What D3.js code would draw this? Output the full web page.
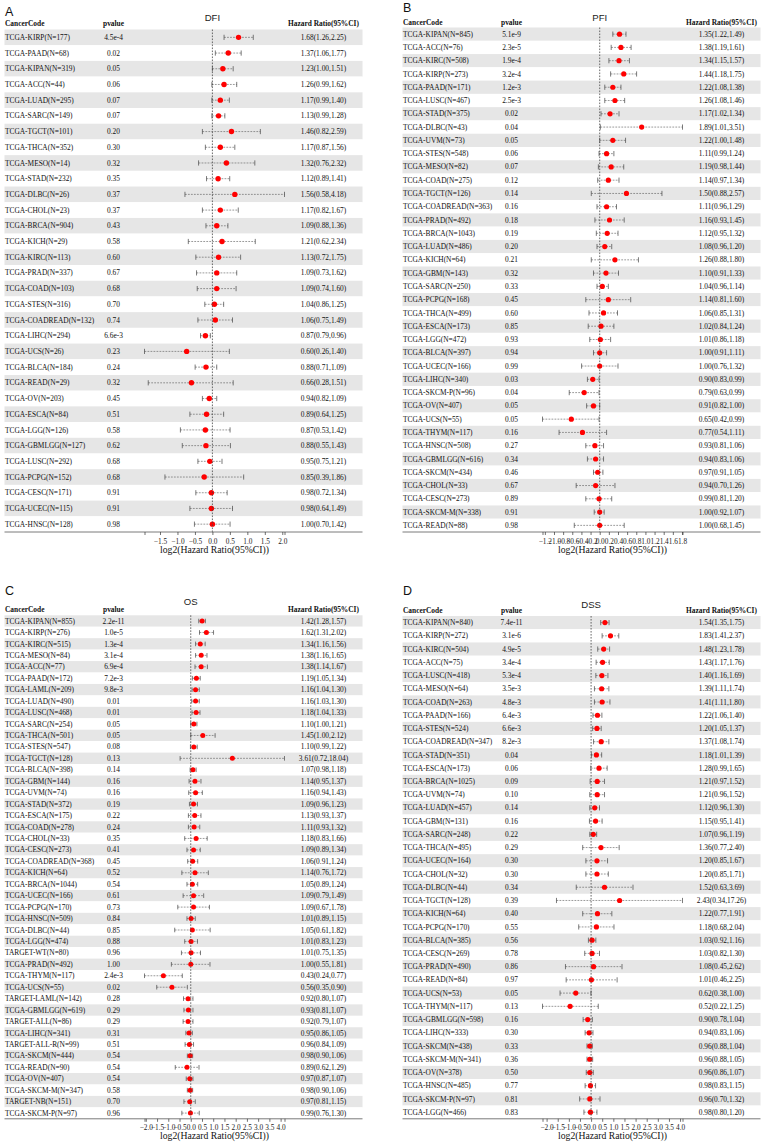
<!DOCTYPE html>
<html>
<head>
<meta charset="utf-8">
<script src="https://cdn.jsdelivr.net/npm/d3@7"></script>
<style>
  body { margin: 0; background: #fff; }
  text { font-family: "Liberation Serif", "Times New Roman", serif; fill: #111; }
  .sans { font-family: "Liberation Sans", Arial, sans-serif; }
</style>
</head>
<body>
<div id="chart"></div>
<script>
// ---- DFI (A) ----
var dfiCode = ["TCGA-KIRP(N=177)","TCGA-PAAD(N=68)","TCGA-KIPAN(N=319)","TCGA-ACC(N=44)","TCGA-LUAD(N=295)","TCGA-SARC(N=149)","TCGA-TGCT(N=101)","TCGA-THCA(N=352)","TCGA-MESO(N=14)","TCGA-STAD(N=232)","TCGA-DLBC(N=26)","TCGA-CHOL(N=23)","TCGA-BRCA(N=904)","TCGA-KICH(N=29)","TCGA-KIRC(N=113)","TCGA-PRAD(N=337)","TCGA-COAD(N=103)","TCGA-STES(N=316)","TCGA-COADREAD(N=132)","TCGA-LIHC(N=294)","TCGA-UCS(N=26)","TCGA-BLCA(N=184)","TCGA-READ(N=29)","TCGA-OV(N=203)","TCGA-ESCA(N=84)","TCGA-LGG(N=126)","TCGA-GBMLGG(N=127)","TCGA-LUSC(N=292)","TCGA-PCPG(N=152)","TCGA-CESC(N=171)","TCGA-UCEC(N=115)","TCGA-HNSC(N=128)"];
var dfiP = ["4.5e-4","0.02","0.05","0.06","0.07","0.07","0.20","0.30","0.32","0.35","0.37","0.37","0.43","0.58","0.60","0.67","0.68","0.70","0.74","6.6e-3","0.23","0.24","0.32","0.45","0.51","0.58","0.62","0.68","0.68","0.91","0.91","0.98"];
var dfiHR = [1.68,1.37,1.23,1.26,1.17,1.13,1.46,1.17,1.32,1.12,1.56,1.17,1.09,1.21,1.13,1.09,1.09,1.04,1.06,0.87,0.60,0.88,0.66,0.94,0.89,0.87,0.88,0.95,0.85,0.98,0.98,1.00];
var dfiLo = [1.26,1.06,1.00,0.99,0.99,0.99,0.82,0.87,0.76,0.89,0.58,0.82,0.88,0.62,0.72,0.73,0.74,0.86,0.75,0.79,0.26,0.71,0.28,0.82,0.64,0.53,0.55,0.75,0.39,0.72,0.64,0.70];
var dfiHi = [2.25,1.77,1.51,1.62,1.40,1.28,2.59,1.56,2.32,1.41,4.18,1.67,1.36,2.34,1.75,1.62,1.60,1.25,1.49,0.96,1.40,1.09,1.51,1.09,1.25,1.42,1.43,1.21,1.86,1.34,1.49,1.42];

// ---- PFI (B) ----
var pfiCode = ["TCGA-KIPAN(N=845)","TCGA-ACC(N=76)","TCGA-KIRC(N=508)","TCGA-KIRP(N=273)","TCGA-PAAD(N=171)","TCGA-LUSC(N=467)","TCGA-STAD(N=375)","TCGA-DLBC(N=43)","TCGA-UVM(N=73)","TCGA-STES(N=548)","TCGA-MESO(N=82)","TCGA-COAD(N=275)","TCGA-TGCT(N=126)","TCGA-COADREAD(N=363)","TCGA-PRAD(N=492)","TCGA-BRCA(N=1043)","TCGA-LUAD(N=486)","TCGA-KICH(N=64)","TCGA-GBM(N=143)","TCGA-SARC(N=250)","TCGA-PCPG(N=168)","TCGA-THCA(N=499)","TCGA-ESCA(N=173)","TCGA-LGG(N=472)","TCGA-BLCA(N=397)","TCGA-UCEC(N=166)","TCGA-LIHC(N=340)","TCGA-SKCM-P(N=96)","TCGA-OV(N=407)","TCGA-UCS(N=55)","TCGA-THYM(N=117)","TCGA-HNSC(N=508)","TCGA-GBMLGG(N=616)","TCGA-SKCM(N=434)","TCGA-CHOL(N=33)","TCGA-CESC(N=273)","TCGA-SKCM-M(N=338)","TCGA-READ(N=88)"];
var pfiP = ["5.1e-9","2.3e-5","1.9e-4","3.2e-4","1.2e-3","2.5e-3","0.02","0.04","0.05","0.06","0.07","0.12","0.14","0.16","0.18","0.19","0.20","0.21","0.32","0.33","0.45","0.60","0.85","0.93","0.94","0.99","0.03","0.04","0.05","0.05","0.16","0.27","0.34","0.46","0.67","0.89","0.91","0.98"];
var pfiHR = [1.35,1.38,1.34,1.44,1.22,1.26,1.17,1.89,1.22,1.11,1.19,1.14,1.50,1.11,1.16,1.12,1.08,1.26,1.10,1.04,1.14,1.06,1.02,1.01,1.00,1.00,0.90,0.79,0.91,0.65,0.77,0.93,0.94,0.97,0.94,0.99,1.00,1.00];
var pfiLo = [1.22,1.19,1.15,1.18,1.08,1.08,1.02,1.01,1.00,0.99,0.98,0.97,0.88,0.96,0.93,0.95,0.96,0.88,0.91,0.96,0.81,0.85,0.84,0.86,0.91,0.76,0.83,0.63,0.82,0.42,0.54,0.81,0.83,0.91,0.70,0.81,0.92,0.68];
var pfiHi = [1.49,1.61,1.57,1.75,1.38,1.46,1.34,3.51,1.48,1.24,1.44,1.34,2.57,1.29,1.45,1.32,1.20,1.80,1.33,1.14,1.60,1.31,1.24,1.18,1.11,1.32,0.99,0.99,1.00,0.99,1.11,1.06,1.06,1.05,1.26,1.20,1.07,1.45];

// ---- OS (C) ----
var osCode = ["TCGA-KIPAN(N=855)","TCGA-KIRP(N=276)","TCGA-KIRC(N=515)","TCGA-MESO(N=84)","TCGA-ACC(N=77)","TCGA-PAAD(N=172)","TCGA-LAML(N=209)","TCGA-LUAD(N=490)","TCGA-LUSC(N=468)","TCGA-SARC(N=254)","TCGA-THCA(N=501)","TCGA-STES(N=547)","TCGA-TGCT(N=128)","TCGA-BLCA(N=398)","TCGA-GBM(N=144)","TCGA-UVM(N=74)","TCGA-STAD(N=372)","TCGA-ESCA(N=175)","TCGA-COAD(N=278)","TCGA-CHOL(N=33)","TCGA-CESC(N=273)","TCGA-COADREAD(N=368)","TCGA-KICH(N=64)","TCGA-BRCA(N=1044)","TCGA-UCEC(N=166)","TCGA-PCPG(N=170)","TCGA-HNSC(N=509)","TCGA-DLBC(N=44)","TCGA-LGG(N=474)","TARGET-WT(N=80)","TCGA-PRAD(N=492)","TCGA-THYM(N=117)","TCGA-UCS(N=55)","TARGET-LAML(N=142)","TCGA-GBMLGG(N=619)","TARGET-ALL(N=86)","TCGA-LIHC(N=341)","TARGET-ALL-R(N=99)","TCGA-SKCM(N=444)","TCGA-READ(N=90)","TCGA-OV(N=407)","TCGA-SKCM-M(N=347)","TARGET-NB(N=151)","TCGA-SKCM-P(N=97)"];
var osP = ["2.2e-11","1.0e-5","1.3e-4","3.1e-4","6.9e-4","7.2e-3","9.8e-3","0.01","0.01","0.05","0.05","0.08","0.13","0.14","0.16","0.16","0.19","0.22","0.24","0.35","0.41","0.45","0.52","0.54","0.61","0.73","0.84","0.85","0.88","0.96","1.00","2.4e-3","0.02","0.28","0.29","0.29","0.31","0.51","0.54","0.54","0.54","0.58","0.70","0.96"];
var osHR = [1.42,1.62,1.34,1.38,1.38,1.19,1.16,1.16,1.18,1.10,1.45,1.10,3.61,1.07,1.14,1.16,1.09,1.13,1.11,1.18,1.09,1.06,1.14,1.05,1.09,1.09,1.01,1.05,1.01,1.01,1.00,0.43,0.56,0.92,0.93,0.92,0.95,0.96,0.98,0.89,0.97,0.98,0.97,0.99];
var osLo = [1.28,1.31,1.16,1.16,1.14,1.05,1.04,1.03,1.04,1.00,1.00,0.99,0.72,0.98,0.95,0.94,0.96,0.93,0.93,0.83,0.89,0.91,0.76,0.89,0.79,0.67,0.89,0.61,0.83,0.75,0.55,0.24,0.35,0.80,0.81,0.79,0.86,0.84,0.90,0.62,0.87,0.90,0.81,0.76];
var osHi = [1.57,2.02,1.56,1.65,1.67,1.34,1.30,1.30,1.33,1.21,2.12,1.22,18.04,1.18,1.37,1.43,1.23,1.37,1.32,1.66,1.34,1.24,1.72,1.24,1.49,1.78,1.15,1.82,1.23,1.35,1.81,0.77,0.90,1.07,1.07,1.07,1.05,1.09,1.06,1.29,1.07,1.06,1.15,1.30];

// ---- DSS (D) ----
var dssCode = ["TCGA-KIPAN(N=840)","TCGA-KIRP(N=272)","TCGA-KIRC(N=504)","TCGA-ACC(N=75)","TCGA-LUSC(N=418)","TCGA-MESO(N=64)","TCGA-COAD(N=263)","TCGA-PAAD(N=166)","TCGA-STES(N=524)","TCGA-COADREAD(N=347)","TCGA-STAD(N=351)","TCGA-ESCA(N=173)","TCGA-BRCA(N=1025)","TCGA-UVM(N=74)","TCGA-LUAD(N=457)","TCGA-GBM(N=131)","TCGA-SARC(N=248)","TCGA-THCA(N=495)","TCGA-UCEC(N=164)","TCGA-CHOL(N=32)","TCGA-DLBC(N=44)","TCGA-TGCT(N=128)","TCGA-KICH(N=64)","TCGA-PCPG(N=170)","TCGA-BLCA(N=385)","TCGA-CESC(N=269)","TCGA-PRAD(N=490)","TCGA-READ(N=84)","TCGA-UCS(N=53)","TCGA-THYM(N=117)","TCGA-GBMLGG(N=598)","TCGA-LIHC(N=333)","TCGA-SKCM(N=438)","TCGA-SKCM-M(N=341)","TCGA-OV(N=378)","TCGA-HNSC(N=485)","TCGA-SKCM-P(N=97)","TCGA-LGG(N=466)"];
var dssP = ["7.4e-11","3.1e-6","4.9e-5","3.4e-4","5.3e-4","3.5e-3","4.8e-3","6.4e-3","6.6e-3","8.2e-3","0.04","0.06","0.09","0.10","0.14","0.16","0.22","0.29","0.30","0.30","0.34","0.39","0.40","0.55","0.56","0.78","0.86","0.97","0.05","0.13","0.16","0.30","0.33","0.36","0.50","0.77","0.81","0.83"];
var dssHR = [1.54,1.83,1.48,1.43,1.40,1.39,1.41,1.22,1.20,1.37,1.18,1.28,1.21,1.21,1.12,1.15,1.07,1.36,1.20,1.20,1.52,2.43,1.22,1.18,1.03,1.03,1.08,1.01,0.62,0.52,0.90,0.94,0.96,0.96,0.96,0.98,0.96,0.98];
var dssLo = [1.35,1.41,1.23,1.17,1.16,1.11,1.11,1.06,1.05,1.08,1.01,0.99,0.97,0.96,0.96,0.95,0.96,0.77,0.85,0.85,0.63,0.34,0.77,0.68,0.92,0.82,0.45,0.46,0.38,0.22,0.78,0.83,0.88,0.88,0.86,0.83,0.70,0.80];
var dssHi = [1.75,2.37,1.78,1.76,1.69,1.74,1.80,1.40,1.37,1.74,1.39,1.65,1.52,1.52,1.30,1.41,1.19,2.40,1.67,1.71,3.69,17.26,1.91,2.04,1.16,1.30,2.62,2.25,1.00,1.25,1.04,1.06,1.04,1.05,1.07,1.15,1.32,1.20];

var W = 765, H = 1144;

var svg = d3.select("#chart")
    .append("svg")
    .attr("width", W)
    .attr("height", H)

var fmt2 = d3.format(".2f")
var fmt1 = d3.format(".1f")

function buildRows(code, p, hr, lo, hi) {
    return code.map(function (c, i) {
        return { code: c, p: p[i], hr: hr[i], lo: lo[i], hi: hi[i] }
    })
}

var panels = [
    { letter: "A", title: "DFI", rows: buildRows(dfiCode, dfiP, dfiHR, dfiLo, dfiHi), dx: 0,
      letterY: 15.7, titleY: 21, headY: 25.5, top: 29.5, bottom: 532, tickY: 544, axTitleY: 552.5, step: 0.5, r: 2.7 },
    { letter: "B", title: "PFI", rows: buildRows(pfiCode, pfiP, pfiHR, pfiLo, pfiHi), dx: 398,
      letterY: 11.7, titleY: 20.7, headY: 24.5, top: 27.5, bottom: 532, tickY: 544, axTitleY: 552.5, step: 0.2, r: 2.6 },
    { letter: "C", title: "OS", rows: buildRows(osCode, osP, osHR, osLo, osHi), dx: 0,
      letterY: 595, titleY: 605, headY: 612.3, top: 615.3, bottom: 1118.8, tickY: 1130, axTitleY: 1138.5, step: 0.5, r: 2.5 },
    { letter: "D", title: "DSS", rows: buildRows(dssCode, dssP, dssHR, dssLo, dssHi), dx: 398,
      letterY: 595, titleY: 608.3, headY: 612.5, top: 616, bottom: 1118.8, tickY: 1130, axTitleY: 1138.5, step: 0.5, r: 2.6 }
]

// column positions inside a panel
var tblLeft = 4.5, tblRight = 362.5,
    codeX = 5, pX = 113.5, hrX = 323.5,
    plotLeft = 144.5, plotRight = 284.5;

panels.forEach(drawPanel)

function drawPanel(P) {
    var g = svg.append("g").attr("transform", "translate(" + P.dx + ",0)")
    var rows = P.rows

    var lmin = Math.log2(d3.min(rows, function (d) { return d.lo }))
    var lmax = Math.log2(d3.max(rows, function (d) { return d.hi }))

    var x = d3.scaleLinear().domain([lmin, lmax]).range([plotLeft, plotRight])
    var y = d3.scaleBand()
        .domain(d3.range(rows.length))
        .range([P.top, P.bottom])
    var bh = y.bandwidth()

    // stripes
    g.selectAll(".band")
        .data(rows)
        .enter().append("rect")
        .attr("class", "band")
        .attr("x", tblLeft)
        .attr("width", tblRight - tblLeft)
        .attr("y", function (d, i) { return y(i) })
        .attr("height", bh)
        .attr("fill", function (d, i) { return i % 2 == 0 ? "#e6e6e6" : "#fff" })

    // panel letter + title
    g.append("text").attr("class", "sans")
        .attr("x", codeX).attr("y", P.letterY)
        .style("font-size", "12.5px")
        .text(P.letter)

    g.append("text").attr("class", "sans")
        .attr("x", x(0)).attr("y", P.titleY)
        .attr("text-anchor", "middle")
        .style("font-size", "9.6px")
        .style("fill", "#222")
        .text(P.title)

    // header
    var head = g.append("g").style("font-size", "7.4px").style("font-weight", "bold")
    head.append("text").attr("x", codeX).attr("y", P.headY).text("CancerCode")
    head.append("text").attr("x", pX).attr("y", P.headY).attr("text-anchor", "middle").text("pvalue")
    head.append("text").attr("x", hrX).attr("y", P.headY).attr("text-anchor", "middle").text("Hazard Ratio(95%CI)")

    // text columns
    var rowG = g.selectAll(".row")
        .data(rows)
        .enter().append("g")
        .attr("class", "row")
        .attr("transform", function (d, i) { return "translate(0," + (y(i) + bh / 2) + ")" })
        .style("font-size", "7.4px")

    rowG.append("text").attr("x", codeX).attr("dy", "0.35em")
        .text(function (d) { return d.code })
    rowG.append("text").attr("x", pX).attr("dy", "0.35em").attr("text-anchor", "middle")
        .text(function (d) { return d.p })
    rowG.append("text").attr("x", hrX).attr("dy", "0.35em").attr("text-anchor", "middle")
        .text(function (d) { return fmt2(d.hr) + "(" + fmt2(d.lo) + "," + fmt2(d.hi) + ")" })

    // reference line at log2(HR)=0
    g.append("line")
        .attr("x1", x(0)).attr("x2", x(0))
        .attr("y1", P.top).attr("y2", P.bottom)
        .attr("stroke", "#444")
        .attr("stroke-width", 0.8)
        .attr("stroke-dasharray", "1.6,1.4")

    // CI whiskers
    var capH = Math.min(2.6, bh * 0.2)
    rowG.append("line")
        .attr("x1", function (d) { return x(Math.log2(d.lo)) })
        .attr("x2", function (d) { return x(Math.log2(d.hi)) })
        .attr("stroke", "#555")
        .attr("stroke-width", 0.6)
        .attr("stroke-dasharray", "1.8,1.2")
    rowG.selectAll(".cap")
        .data(function (d) { return [d.lo, d.hi] })
        .enter().append("line")
        .attr("class", "cap")
        .attr("x1", function (v) { return x(Math.log2(v)) })
        .attr("x2", function (v) { return x(Math.log2(v)) })
        .attr("y1", -capH).attr("y2", capH)
        .attr("stroke", "#444")
        .attr("stroke-width", 0.7)

    rowG.append("circle")
        .attr("cx", function (d) { return x(Math.log2(d.hr)) })
        .attr("r", P.r)
        .attr("fill", "#ff0000")

    // bottom rule + axis
    g.append("line")
        .attr("x1", tblLeft).attr("x2", tblRight)
        .attr("y1", P.bottom).attr("y2", P.bottom)
        .attr("stroke", "#7a7a7a")
        .attr("stroke-width", 1)

    var first = Math.ceil(lmin / P.step - 1e-9) * P.step
    var ticks = d3.range(Math.round((lmax - first) / P.step + 1e-9) + 1).map(function (k) {
        return +(first + k * P.step).toFixed(2)
    }).filter(function (v) { return v <= lmax + 1e-9 })
    var nLab = ticks.length
    var allTicks = ticks.concat([lmin, lmax])

    var axis = d3.axisBottom(x)
        .tickValues(allTicks)
        .tickSize(3)
        .tickSizeOuter(0)
        .tickFormat(function (v, i) { return i < nLab ? fmt1(v) : "" })

    var ax = g.append("g")
        .attr("transform", "translate(0," + P.bottom + ")")
        .call(axis)
    ax.select(".domain").remove()
    ax.selectAll(".tick line").attr("stroke", "#333").attr("stroke-width", 0.7)
    ax.selectAll(".tick text")
        .attr("y", P.tickY - P.bottom)
        .attr("dy", 0)
        .style("font-family", "'Liberation Serif', serif")
        .style("font-size", "7.3px")
        .style("fill", "#222")

    g.append("text")
        .attr("x", (plotLeft + plotRight) / 2).attr("y", P.axTitleY)
        .attr("text-anchor", "middle")
        .style("font-size", "9.7px")
        .text("log2(Hazard Ratio(95%CI))")
}
</script>
</body>
</html>
